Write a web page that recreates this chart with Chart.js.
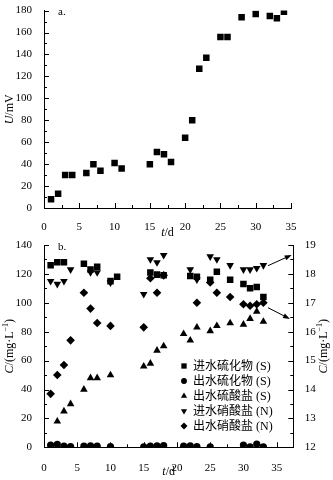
<!DOCTYPE html>
<html>
<head>
<meta charset="utf-8">
<script src="https://cdn.jsdelivr.net/npm/chart.js"></script>
<style>
html, body { margin: 0; padding: 0; background: #fff; }
#wrap { position: relative; width: 333px; height: 480px; }
canvas { position: absolute; left: 0; }
#potential { top: 0; }
#concentration { top: 232px; }
</style>
</head>
<body>
<div id="wrap">
<canvas id="potential" width="333" height="244"></canvas>
<canvas id="concentration" width="333" height="248"></canvas>
</div>
<script>
// panel a: voltage vs time
var potentialDays = [1, 2, 3, 4, 6, 7, 8, 10, 11, 15, 16, 17, 18, 20, 21, 22, 23, 25, 26, 28, 30, 32, 33, 34];
var potentialValues = [8, 13, 30, 30, 32, 40, 34, 41, 36, 40, 51, 49, 42, 64, 80, 127, 137, 156, 156, 174, 177, 175, 173, 179];
var potentialTicksX = [0, 5, 10, 15, 20, 25, 30, 35];
var potentialTicksY = [0, 20, 40, 60, 80, 100, 120, 140, 160, 180];

// panel b: sulfur species (left axis, mg/L)
var sulfideInDays = [1, 2, 3, 6, 7, 8, 10, 11, 16, 17, 18, 22, 23, 25, 26, 28, 30, 31, 32, 33];
var sulfideInValues = [126, 128, 128, 127, 123, 125, 115, 118, 121, 119.5, 119, 118.5, 118, 116, 121.5, 116, 113, 110, 111, 104];
var sulfideOutDays = [1, 2, 3, 4, 6, 7, 8, 10, 15, 16, 17, 18, 21, 22, 23, 25, 30, 31, 32, 33];
var sulfideOutValues = [1.5, 2, 0.8, 0.5, 0.8, 1, 0.8, 0.5, 0.3, 0.8, 1, 1.2, 0.8, 1, 0.5, 0.3, 1.6, 0.3, 2.3, 0.3];
var sulfateOutDays = [2, 3, 4, 6, 7, 8, 10, 15, 16, 17, 18, 21, 22, 23, 25, 26, 28, 30, 31, 32, 33];
var sulfateOutValues = [18, 25, 30, 40, 48, 48, 50, 56, 58, 67, 70, 78.5, 74, 83, 80.5, 84, 86, 85, 89, 94, 87];

// panel b: nitrogen species (right axis, mg/L)
var nitrateInDays = [1, 2, 3, 4, 7, 8, 10, 15, 16, 17, 18, 22, 23, 25, 26, 28, 30, 31, 32, 33];
var nitrateInValues = [17.75, 17.65, 17.75, 18.15, 18.05, 18.05, 17.7, 17.3, 18.5, 18.4, 18.65, 18.15, 17.8, 18.6, 18.5, 18.3, 18.15, 18.15, 18.2, 18.3];
var nitrateOutDays = [1, 2, 3, 4, 6, 7, 8, 10, 15, 16, 17, 18, 23, 25, 26, 28, 30, 31, 32, 33];
var nitrateOutValues = [13.85, 14.5, 14.85, 15.7, 17.35, 16.8, 16.3, 16.2, 16.15, 17.85, 17.35, 17.95, 17.0, 17.7, 17.35, 17.2, 16.95, 16.9, 16.95, 17.0];

var concTicksX = [0, 5, 10, 15, 20, 25, 30, 35];
var concTicksY = [0, 20, 40, 60, 80, 100, 120, 140];
var concTicksRight = [12, 13, 14, 15, 16, 17, 18, 19];

var serif = '"Liberation Serif", "Times New Roman", serif';
var cjk = '"Liberation Serif", "Noto Sans CJK SC", serif';
Chart.defaults.font.family = serif;
Chart.defaults.font.size = 11;
Chart.defaults.color = '#000';

function points(xs, ys) {
    return xs.map(function (x, i) { return { x: x, y: ys[i] }; });
}

function fixedTicks(list) {
    return function (scale) {
        scale.ticks = list.map(function (v) { return { value: v }; });
    };
}

function axis(position, min, max, tickList, size, pad) {
    var horizontal = position === 'bottom';
    return {
        type: 'linear',
        position: position,
        min: min,
        max: max,
        afterBuildTicks: fixedTicks(tickList),
        afterFit: function (scale) {
            if (horizontal) scale.height = size; else scale.width = size;
        },
        grid: { display: false },
        border: { display: true, color: '#000', width: 1 },
        ticks: { padding: pad, maxRotation: 0, autoSkip: false, color: '#000' }
    };
}

// inward tick marks, major and minor
function inwardTicks(spec) {
    return {
        id: 'inwardTicks',
        afterDatasetsDraw: function (chart) {
            var ctx = chart.ctx, area = chart.chartArea;
            ctx.save();
            ctx.strokeStyle = '#000';
            ctx.lineWidth = 1;
            Object.keys(spec).forEach(function (id) {
                var scale = chart.scales[id], s = spec[id];
                for (var v = scale.min + s.minor; v <= scale.max + 1e-9; v += s.minor) {
                    var r = v / s.major;
                    var len = Math.abs(r - Math.round(r)) < 1e-6 ? 5 : 3;
                    var p = Math.round(scale.getPixelForValue(v)) + 0.5;
                    ctx.beginPath();
                    if (scale.isHorizontal()) {
                        ctx.moveTo(p, area.bottom);
                        ctx.lineTo(p, area.bottom - len);
                    } else if (scale.position === 'left') {
                        ctx.moveTo(area.left, p);
                        ctx.lineTo(area.left + len, p);
                    } else {
                        ctx.moveTo(area.right, p);
                        ctx.lineTo(area.right - len, p);
                    }
                    ctx.stroke();
                }
            });
            ctx.restore();
        }
    };
}

function drawRich(ctx, parts, x, y, rotate) {
    ctx.save();
    ctx.translate(x, y);
    if (rotate) ctx.rotate(-Math.PI / 2);
    ctx.textBaseline = 'middle';
    ctx.textAlign = 'left';
    var fonts = parts.map(function (p) {
        return (p.i ? 'italic ' : '') + (p.sup ? 8 : 12) + 'px ' + serif;
    });
    var widths = parts.map(function (p, k) { ctx.font = fonts[k]; return ctx.measureText(p.t).width; });
    var cx = -widths.reduce(function (a, b) { return a + b; }, 0) / 2;
    parts.forEach(function (p, k) {
        ctx.font = fonts[k];
        ctx.fillText(p.t, cx, p.sup ? -4 : 0);
        cx += widths[k];
    });
    ctx.restore();
}

var titleU = [{ t: 'U', i: true }, { t: '/mV' }];
var titleT = [{ t: 't', i: true }, { t: '/d' }];
var titleC = [{ t: 'C', i: true }, { t: '/(mg\u00b7L' }, { t: '\u22121', sup: true }, { t: ')' }];

function axisTitles(yTitle, rightTitle, panel, xTitleY) {
    return {
        id: 'axisTitles',
        afterDraw: function (chart) {
            var ctx = chart.ctx, area = chart.chartArea;
            var midY = (area.top + area.bottom) / 2;
            ctx.fillStyle = '#000';
            drawRich(ctx, yTitle, 10, midY, true);
            if (rightTitle) drawRich(ctx, rightTitle, 324, midY, true);
            drawRich(ctx, titleT, (area.left + area.right) / 2, xTitleY, false);
            ctx.save();
            ctx.font = '11px ' + serif;
            ctx.textBaseline = 'middle';
            ctx.fillText(panel, area.left + 14, area.top + 2);
            ctx.restore();
        }
    };
}

var arrowLines = [
    { from: [33.7, 125.7], to: [37.25, 133.1] },
    { from: [33.7, 96.6], to: [37.0, 88.8] }
];

var arrows = {
    id: 'arrows',
    afterDatasetsDraw: function (chart) {
        var ctx = chart.ctx, sx = chart.scales.x, sy = chart.scales.y;
        ctx.save();
        ctx.strokeStyle = '#000';
        ctx.fillStyle = '#000';
        ctx.lineWidth = 1;
        arrowLines.forEach(function (a) {
            var x0 = sx.getPixelForValue(a.from[0]), y0 = sy.getPixelForValue(a.from[1]);
            var x1 = sx.getPixelForValue(a.to[0]), y1 = sy.getPixelForValue(a.to[1]);
            var ang = Math.atan2(y1 - y0, x1 - x0);
            ctx.beginPath();
            ctx.moveTo(x0, y0);
            ctx.lineTo(x1 - 5 * Math.cos(ang), y1 - 5 * Math.sin(ang));
            ctx.stroke();
            ctx.beginPath();
            ctx.moveTo(x1, y1);
            ctx.lineTo(x1 - 7 * Math.cos(ang) + 2.5 * Math.sin(ang), y1 - 7 * Math.sin(ang) - 2.5 * Math.cos(ang));
            ctx.lineTo(x1 - 7 * Math.cos(ang) - 2.5 * Math.sin(ang), y1 - 7 * Math.sin(ang) + 2.5 * Math.cos(ang));
            ctx.closePath();
            ctx.fill();
        });
        ctx.restore();
    }
};

var insideLegend = {
    id: 'insideLegend',
    afterDraw: function (chart) {
        var ctx = chart.ctx, area = chart.chartArea;
        ctx.save();
        ctx.fillStyle = '#000';
        ctx.font = '12px ' + cjk;
        ctx.textBaseline = 'middle';
        chart.data.datasets.forEach(function (ds, i) {
            var x = area.left + 140, y = area.top + 121 + i * 15;
            Chart.helpers.drawPoint(ctx, {
                pointStyle: ds.pointStyle,
                rotation: ds.pointRotation || 0,
                radius: ds.pointRadius * 0.82,
                borderWidth: 0
            }, x, y);
            ctx.fillText(ds.label, x + 9, y + 0.5);
        });
        ctx.restore();
    }
};

var potentialContext = document.getElementById('potential').getContext('2d');
var potentialChart = new Chart(potentialContext, {
    type: 'scatter',
    data: {
        datasets: [{
            label: 'U',
            data: points(potentialDays, potentialValues),
            pointStyle: 'rect',
            pointRadius: 4.6,
            pointBackgroundColor: '#000',
            pointBorderWidth: 0
        }]
    },
    options: {
        responsive: false,
        animation: false,
        events: [],
        layout: { padding: { top: 9, right: 42, left: 0, bottom: 0 } },
        plugins: { legend: { display: false }, tooltip: { enabled: false } },
        scales: {
            x: axis('bottom', 0, 35, potentialTicksX, 36, 5),
            y: axis('left', 0, 180, potentialTicksY, 44, 4)
        }
    },
    plugins: [
        inwardTicks({ x: { minor: 2.5, major: 5 }, y: { minor: 10, major: 20 } }),
        axisTitles(titleU, null, 'a.', 233)
    ]
});

var concContext = document.getElementById('concentration').getContext('2d');
var concChart = new Chart(concContext, {
    type: 'scatter',
    data: {
        datasets: [
            {
                label: '进水硫化物 (S)',
                data: points(sulfideInDays, sulfideInValues),
                pointStyle: 'rect',
                pointRadius: 4.6,
                pointBackgroundColor: '#000',
                pointBorderWidth: 0,
                yAxisID: 'y'
            },
            {
                label: '出水硫化物 (S)',
                data: points(sulfideOutDays, sulfideOutValues),
                pointStyle: 'circle',
                pointRadius: 3.6,
                pointBackgroundColor: '#000',
                pointBorderWidth: 0,
                yAxisID: 'y',
                clip: { left: 10, top: 10, right: 10, bottom: 0 }
            },
            {
                label: '出水硫酸盐 (S)',
                data: points(sulfateOutDays, sulfateOutValues),
                pointStyle: 'triangle',
                pointRadius: 4.4,
                pointBackgroundColor: '#000',
                pointBorderWidth: 0,
                yAxisID: 'y'
            },
            {
                label: '进水硝酸盐 (N)',
                data: points(nitrateInDays, nitrateInValues),
                pointStyle: 'triangle',
                pointRotation: 180,
                pointRadius: 4.4,
                pointBackgroundColor: '#000',
                pointBorderWidth: 0,
                yAxisID: 'y1'
            },
            {
                label: '出水硝酸盐 (N)',
                data: points(nitrateOutDays, nitrateOutValues),
                pointStyle: 'rectRot',
                pointRadius: 4.3,
                pointBackgroundColor: '#000',
                pointBorderWidth: 0,
                yAxisID: 'y1'
            }
        ]
    },
    options: {
        responsive: false,
        animation: false,
        events: [],
        layout: { padding: { top: 13, right: 0, left: 0, bottom: 0 } },
        plugins: { legend: { display: false }, tooltip: { enabled: false } },
        scales: {
            x: axis('bottom', 0, 37.5, concTicksX, 32.7, 6),
            y: axis('left', 0, 140, concTicksY, 44, 4),
            y1: axis('right', 12, 19, concTicksRight, 39.7, 3.5)
        }
    },
    plugins: [
        inwardTicks({ x: { minor: 2.5, major: 5 }, y: { minor: 10, major: 20 }, y1: { minor: 0.5, major: 1 } }),
        arrows,
        insideLegend,
        axisTitles(titleC, titleC, 'b.', 240)
    ]
});
</script>
</body>
</html>
